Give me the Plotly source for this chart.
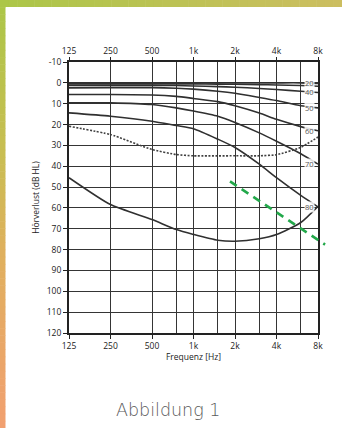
import math
import plotly.graph_objects as go

# ---------------- data ----------------
freqs = [125, 250, 500, 750, 1000, 1500, 2000, 3000, 4000, 6000, 8000]
age20 = [0, 0, 0, 0, 0, 0, 0, 0, 0, 0, 0.3]
age30 = [0.5, 0.5, 0.5, 0.5, 0.5, 0.6, 0.7, 0.9, 1.0, 1.3, 1.6]
age40 = [1.2, 1.2, 1.2, 1.3, 1.5, 1.8, 2.1, 2.7, 3.2, 4.0, 4.6]
age50 = [2.4, 2.3, 2.3, 2.6, 3.0, 4.0, 5.0, 7.0, 8.5, 11.0, 12.0]
age60 = [5.6, 5.6, 5.8, 6.5, 7.5, 9.0, 11.0, 14.5, 17.5, 21.0, 23.0]
age70 = [9.6, 9.6, 10.4, 12.0, 13.5, 16.0, 19.0, 24.0, 28.0, 34.0, 39.0]
age80 = [14.4, 16.0, 18.4, 20.5, 22.0, 27.0, 31.0, 39.0, 45.5, 54.0, 59.5]
dotted_freqs = [125, 250, 500, 750, 1000, 2000, 3000, 4000, 6000, 8000]
curve_dotted = [20.8, 24.8, 32.0, 34.4, 35.0, 35.0, 35.0, 34.5, 31.0, 26.0]
curve_bottom = [45.5, 58.4, 65.6, 70.4, 72.7, 75.5, 76.0, 74.8, 72.8, 67.0, 59.2]

age_curves = [age20, age30, age40, age50, age60, age70, age80]
age_labels = ["20", "", "40", "50", "60", "70", "80"]

green_freq = [1840, 9000]
green_db = [47.3, 77.6]

x_tickvals = [125, 250, 500, 1000, 2000, 4000, 8000]
x_ticktext = ["125", "250", "500", "1k", "2k", "4k", "8k"]
x_minor_vals = [750, 1500, 3000, 6000]
y_tickvals = [-10, 0, 10, 20, 30, 40, 50, 60, 70, 80, 90, 100, 110, 120]
y_ticktext = ["-10", "0", "10", "20", "30", "40", "50", "60", "70", "80", "90", "100", "110", "120"]

# ---------------- layout geometry ----------------
W, H = 342, 428
ML, MR, MT, MB = 69, 24, 62, 95
PW, PH = W - ML - MR, H - MT - MB
XR = [math.log10(125), math.log10(8000)]
YR = [120, -10]


def px_x(p):
    return (p - ML) / PW


def px_y(p):
    return (H - MB - p) / PH


def freq_to_paper(f):
    return (math.log10(f) - XR[0]) / (XR[1] - XR[0])


GRID = "#353535"
CURVE = "#303030"

fig = go.Figure()

for vals in age_curves:
    fig.add_trace(go.Scatter(x=freqs, y=vals, mode="lines",
                             line=dict(color=CURVE, width=1.6, shape="spline", smoothing=0.6),
                             hoverinfo="skip"))
fig.add_trace(go.Scatter(x=dotted_freqs, y=curve_dotted, mode="lines",
                         line=dict(color="#404040", width=1.6, dash="2px,1.5px", shape="spline", smoothing=0.4),
                         hoverinfo="skip"))
fig.add_trace(go.Scatter(x=freqs, y=curve_bottom, mode="lines",
                         line=dict(color=CURVE, width=1.6, shape="spline", smoothing=0.6),
                         hoverinfo="skip"))
# invisible trace for top axis
fig.add_trace(go.Scatter(x=[125, 8000], y=[-10, -10], xaxis="x2", mode="lines",
                         line=dict(width=0), hoverinfo="skip", showlegend=False))

# green dashed line
fig.add_shape(type="line", xref="paper", yref="y",
              x0=freq_to_paper(green_freq[0]), y0=green_db[0],
              x1=freq_to_paper(green_freq[1]), y1=green_db[1],
              line=dict(color="#22a84a", width=2.6, dash="8px,6px"), layer="above")

# curve labels at 8 kHz
for vals, lab in zip(age_curves, age_labels):
    if not lab:
        continue
    fig.add_annotation(x=math.log10(8000), y=vals[-1], xref="x", yref="y", text=lab,
                       showarrow=False, xanchor="right", yanchor="middle", xshift=-3,
                       font=dict(family="Open Sans", size=7.5, color="#555"),
                       bgcolor="rgba(255,255,255,0.85)", borderpad=0)

# gradient frame (decoration)
N = 60
def mix(c1, c2, t):
    return tuple(round(a + (b - a) * t) for a, b in zip(c1, c2))

stops = [(0.0, (172, 198, 72)), (0.35, (200, 190, 82)), (0.6, (224, 176, 94)), (1.0, (241, 160, 112))]
def grad(t):
    for (t0, c0), (t1, c1) in zip(stops[:-1], stops[1:]):
        if t <= t1:
            return mix(c0, c1, (t - t0) / (t1 - t0))
    return stops[-1][1]

for i in range(N):
    y0p, y1p = H * i / N, H * (i + 1) / N + 0.5
    c = grad(i / (N - 1))
    fig.add_shape(type="rect", xref="paper", yref="paper", x0=px_x(0), x1=px_x(5.5),
                  y0=px_y(y1p), y1=px_y(y0p), line=dict(width=0),
                  fillcolor="rgb(%d,%d,%d)" % c, layer="above")
top_l, top_r = (172, 198, 72), (204, 190, 96)
M = 40
for i in range(M):
    x0p, x1p = W * i / M, W * (i + 1) / M + 0.5
    c = mix(top_l, top_r, i / (M - 1))
    fig.add_shape(type="rect", xref="paper", yref="paper", x0=px_x(x0p), x1=px_x(x1p),
                  y0=px_y(7), y1=px_y(0), line=dict(width=0),
                  fillcolor="rgb(%d,%d,%d)" % c, layer="above")

# caption
fig.add_annotation(x=px_x(167.5), y=px_y(410), xref="paper", yref="paper", text="Abbildung 1",
                   showarrow=False, xanchor="center", yanchor="middle",
                   font=dict(family="DejaVu Sans", size=17.5, color="#5a5a5a", weight=200))

tickfont = dict(family="Open Sans", size=8.5, color="#222")
fig.update_layout(
    width=W, height=H,
    margin=dict(l=ML, r=MR, t=MT, b=MB),
    paper_bgcolor="white", plot_bgcolor="white",
    showlegend=False,
    font=tickfont,
    xaxis=dict(type="log", range=XR, tickvals=x_tickvals, ticktext=x_ticktext,
               showgrid=True, gridcolor=GRID, gridwidth=1.3,
               minor=dict(tickvals=x_minor_vals, showgrid=True, gridcolor=GRID, gridwidth=1.3, ticks=""),
               showline=True, linecolor="#222", linewidth=2, mirror=True,
               ticks="outside", ticklen=4, tickcolor="#222", tickfont=tickfont,
               title=dict(text="Frequenz [Hz]", standoff=2, font=tickfont), zeroline=False),
    xaxis2=dict(type="log", range=XR, overlaying="x", side="top", anchor="y",
                tickvals=x_tickvals, ticktext=x_ticktext, showgrid=False,
                ticks="outside", ticklen=4, tickcolor="#222", tickfont=tickfont, showline=False),
    yaxis=dict(range=YR, tickvals=y_tickvals, ticktext=y_ticktext,
               showgrid=True, gridcolor=GRID, gridwidth=1.3,
               showline=True, linecolor="#222", linewidth=2, mirror=True,
               ticks="outside", ticklen=4, tickcolor="#222", tickfont=tickfont,
               title=dict(text="Hörverlust (dB HL)", standoff=6, font=tickfont), zeroline=False),
)

fig.write_html("out.html", config={"displayModeBar": False},
               post_script="document.body.style.margin='0';document.body.style.overflow='hidden';")
